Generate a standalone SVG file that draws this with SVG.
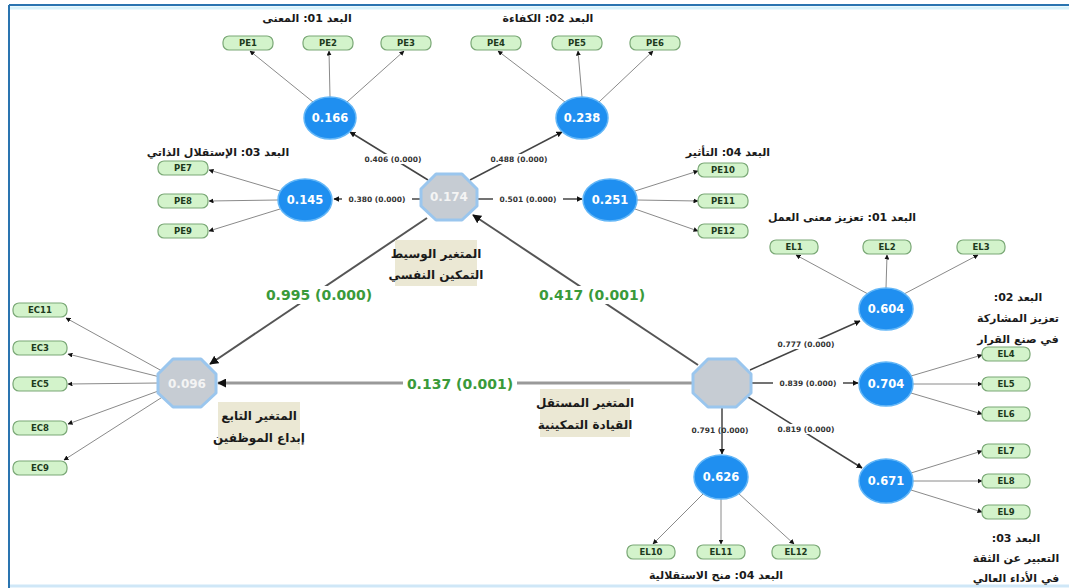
<svg xmlns="http://www.w3.org/2000/svg" width="1069" height="588" viewBox="0 0 1069 588">
<defs>
<marker id="ah" viewBox="0 0 10 10" refX="9" refY="5" markerWidth="6" markerHeight="6" orient="auto" markerUnits="userSpaceOnUse"><path d="M0,0 L10,5 L0,10 z" fill="#111"/></marker>
<marker id="ahs" viewBox="0 0 10 10" refX="9" refY="5" markerWidth="5" markerHeight="5" orient="auto" markerUnits="userSpaceOnUse"><path d="M0,0 L10,5 L0,10 z" fill="#111"/></marker>
<marker id="ahb" viewBox="0 0 10 10" refX="9" refY="5" markerWidth="9" markerHeight="9" orient="auto" markerUnits="userSpaceOnUse"><path d="M0,0 L10,5 L0,10 z" fill="#111"/></marker>
</defs>
<style>
.ind{fill:#d3f3cb;stroke:#7aa876;stroke-width:1.2}
.indt{font-family:"DejaVu Sans",sans-serif;font-weight:bold;font-size:8.5px;fill:#1d3a1d;text-anchor:middle}
.lv{fill:#1f8ff0;stroke:#62b6f7;stroke-width:1.5}
.lvt{font-family:"DejaVu Sans",sans-serif;font-weight:bold;font-size:11.5px;fill:#fff;text-anchor:middle}
.oct{fill:#c6ccd3;stroke:#9ac6ee;stroke-width:3;stroke-linejoin:round}
.octt{font-family:"DejaVu Sans",sans-serif;font-weight:bold;font-size:12px;fill:#f4f4f4;text-anchor:middle}
.ttl{font-family:"DejaVu Sans",sans-serif;font-weight:bold;font-size:11px;fill:#1a1a1a;text-anchor:middle}
.lbl{fill:#ebe8d4}
.lblt{font-family:"DejaVu Sans",sans-serif;font-weight:bold;font-size:12px;fill:#1a1a1a;text-anchor:middle}
.gr{font-family:"DejaVu Sans",sans-serif;font-weight:bold;font-size:14px;fill:#3a9a3a;text-anchor:middle}
.sm{font-family:"DejaVu Sans",sans-serif;font-weight:bold;font-size:7.5px;fill:#333;text-anchor:middle}
.il{stroke:#8a8a8a;stroke-width:1;fill:none;marker-end:url(#ahs)}
.sl{stroke:#444;stroke-width:1.5;fill:none;marker-end:url(#ah)}
.bl{stroke:#555;stroke-width:2;fill:none;marker-end:url(#ahb)}
.wb{fill:#fff}
</style>
<rect x="0" y="0" width="1069" height="588" fill="#fff"/>
<g id="frame">
<line x1="9" y1="5" x2="1069" y2="5" stroke="#2a74b0" stroke-width="2"/>
<line x1="10" y1="8" x2="1069" y2="8" stroke="#d6f2fb" stroke-width="3"/>
<line x1="9" y1="5" x2="9" y2="588" stroke="#2a74b0" stroke-width="2"/>
<line x1="10" y1="586" x2="1069" y2="586" stroke="#cfe7f7" stroke-width="3"/>
</g>

<g id="connectors">
<line class="il" x1="313" y1="102" x2="250" y2="51"/>
<line class="il" x1="330" y1="97" x2="329" y2="51"/>
<line class="il" x1="347" y1="102" x2="404" y2="51"/>
<line class="il" x1="565" y1="102" x2="498" y2="51"/>
<line class="il" x1="582" y1="97" x2="578" y2="51"/>
<line class="il" x1="599" y1="102" x2="653" y2="51"/>
<line class="il" x1="280" y1="191" x2="209" y2="170"/>
<line class="il" x1="278" y1="200" x2="209" y2="201"/>
<line class="il" x1="280" y1="209" x2="209" y2="231"/>
<line class="il" x1="635" y1="191" x2="698" y2="171"/>
<line class="il" x1="637" y1="200" x2="698" y2="201"/>
<line class="il" x1="635" y1="209" x2="698" y2="231"/>
<line class="il" x1="868" y1="294" x2="796" y2="255"/>
<line class="il" x1="886" y1="288" x2="887" y2="255"/>
<line class="il" x1="904" y1="294" x2="978" y2="255"/>
<line class="il" x1="911" y1="376" x2="982" y2="355"/>
<line class="il" x1="913" y1="384" x2="982" y2="384"/>
<line class="il" x1="911" y1="393" x2="982" y2="414"/>
<line class="il" x1="911" y1="473" x2="982" y2="451"/>
<line class="il" x1="913" y1="481" x2="982" y2="481"/>
<line class="il" x1="911" y1="490" x2="982" y2="512"/>
<line class="il" x1="704" y1="493" x2="653" y2="544"/>
<line class="il" x1="721" y1="499" x2="721" y2="544"/>
<line class="il" x1="738" y1="493" x2="794" y2="544"/>
<line class="il" x1="162" y1="371" x2="66" y2="318"/>
<line class="il" x1="160" y1="377" x2="68" y2="354"/>
<line class="il" x1="159" y1="383" x2="68" y2="384"/>
<line class="il" x1="161" y1="390" x2="68" y2="424"/>
<line class="il" x1="164" y1="396" x2="64" y2="460"/>
<line class="sl" x1="428" y1="180" x2="350" y2="132"/>
<line class="sl" x1="470" y1="180" x2="562" y2="132"/>
<line class="sl" x1="421" y1="199" x2="334" y2="199"/>
<line class="sl" x1="477" y1="199" x2="582" y2="199"/>
<line class="bl" x1="427" y1="218" x2="210" y2="364"/>
<line class="bl" x1="698" y1="365" x2="473" y2="215"/>
<line x1="693" y1="383" x2="218" y2="383" stroke="#999" stroke-width="3" marker-end="url(#ahb)"/>
<line class="sl" x1="750" y1="370" x2="860" y2="321"/>
<line class="sl" x1="751" y1="383" x2="858" y2="383"/>
<line class="sl" x1="748" y1="397" x2="862" y2="468"/>
<line class="sl" x1="722" y1="407" x2="722" y2="454"/>
<rect class="wb" x="360" y="154" width="66" height="10"/>
<text class="sm" x="393" y="162">0.406 (0.000)</text>
<rect class="wb" x="486" y="154" width="66" height="10"/>
<text class="sm" x="519" y="162">0.488 (0.000)</text>
<rect class="wb" x="342" y="194" width="70" height="10"/>
<text class="sm" x="377" y="202">0.380 (0.000)</text>
<rect class="wb" x="493" y="194" width="70" height="10"/>
<text class="sm" x="528" y="202">0.501 (0.000)</text>
<rect class="wb" x="771" y="339" width="70" height="10"/>
<text class="sm" x="806" y="347">0.777 (0.000)</text>
<rect class="wb" x="773" y="378" width="70" height="10"/>
<text class="sm" x="808" y="386">0.839 (0.000)</text>
<rect class="wb" x="771" y="424" width="70" height="10"/>
<text class="sm" x="806" y="432">0.819 (0.000)</text>
<text class="sm" x="720" y="433">0.791 (0.000)</text>
<rect class="wb" x="262" y="286" width="114" height="18"/>
<text class="gr" x="319" y="300">0.995 (0.000)</text>
<rect class="wb" x="535" y="286" width="114" height="18"/>
<text class="gr" x="592" y="300">0.417 (0.001)</text>
<rect class="wb" x="403" y="374" width="114" height="18"/>
<text class="gr" x="460" y="389">0.137 (0.001)</text>
</g>

<g id="t-pe-1"><text class="ttl" x="307" y="22" direction="rtl">البعد 01: المعنى</text></g>
<g id="t-pe-2"><text class="ttl" x="548" y="22" direction="rtl">البعد 02: الكفاءة</text></g>
<g id="t-pe-3"><text class="ttl" x="218" y="156" direction="rtl">البعد 03: الإستقلال الذاتي</text></g>
<g id="t-pe-4"><text class="ttl" x="728" y="156" direction="rtl">البعد 04: التأثير</text></g>
<g id="t-el-1"><text class="ttl" x="842" y="221" direction="rtl">البعد 01: تعزيز معنى العمل</text></g>
<g id="t-el-2"><text class="ttl" x="1018" y="301" direction="rtl">البعد 02:</text><text class="ttl" x="1018" y="322" direction="rtl">تعزيز المشاركة</text><text class="ttl" x="1018" y="343" direction="rtl">في صنع القرار</text></g>
<g id="t-el-3"><text class="ttl" x="1016" y="542" direction="rtl">البعد 03:</text><text class="ttl" x="1016" y="562" direction="rtl">التعبير عن الثقة</text><text class="ttl" x="1016" y="582" direction="rtl">في الأداء العالي</text></g>
<g id="t-el-4"><text class="ttl" x="716" y="579" direction="rtl">البعد 04: منح الاستقلالية</text></g>

<g id="PE1"><rect class="ind" x="223" y="36" width="50" height="14" rx="6"/><text class="indt" x="248" y="46">PE1</text></g>
<g id="PE2"><rect class="ind" x="303" y="36" width="50" height="14" rx="6"/><text class="indt" x="328" y="46">PE2</text></g>
<g id="PE3"><rect class="ind" x="381" y="36" width="50" height="14" rx="6"/><text class="indt" x="406" y="46">PE3</text></g>
<g id="PE4"><rect class="ind" x="471" y="36" width="50" height="14" rx="6"/><text class="indt" x="496" y="46">PE4</text></g>
<g id="PE5"><rect class="ind" x="552" y="36" width="50" height="14" rx="6"/><text class="indt" x="577" y="46">PE5</text></g>
<g id="PE6"><rect class="ind" x="630" y="36" width="50" height="14" rx="6"/><text class="indt" x="655" y="46">PE6</text></g>
<g id="PE7"><rect class="ind" x="158" y="161" width="50" height="14" rx="6"/><text class="indt" x="183" y="171">PE7</text></g>
<g id="PE8"><rect class="ind" x="158" y="194" width="50" height="14" rx="6"/><text class="indt" x="183" y="204">PE8</text></g>
<g id="PE9"><rect class="ind" x="158" y="224" width="50" height="14" rx="6"/><text class="indt" x="183" y="234">PE9</text></g>
<g id="PE10"><rect class="ind" x="698" y="163" width="50" height="14" rx="6"/><text class="indt" x="723" y="173">PE10</text></g>
<g id="PE11"><rect class="ind" x="698" y="194" width="50" height="14" rx="6"/><text class="indt" x="723" y="204">PE11</text></g>
<g id="PE12"><rect class="ind" x="698" y="224" width="50" height="14" rx="6"/><text class="indt" x="723" y="234">PE12</text></g>
<g id="EL1"><rect class="ind" x="770" y="240" width="48" height="14" rx="6"/><text class="indt" x="794" y="250">EL1</text></g>
<g id="EL2"><rect class="ind" x="863" y="240" width="48" height="14" rx="6"/><text class="indt" x="887" y="250">EL2</text></g>
<g id="EL3"><rect class="ind" x="957" y="240" width="48" height="14" rx="6"/><text class="indt" x="981" y="250">EL3</text></g>
<g id="EL4"><rect class="ind" x="982" y="347" width="48" height="14" rx="6"/><text class="indt" x="1006" y="357">EL4</text></g>
<g id="EL5"><rect class="ind" x="982" y="377" width="48" height="14" rx="6"/><text class="indt" x="1006" y="387">EL5</text></g>
<g id="EL6"><rect class="ind" x="982" y="407" width="48" height="14" rx="6"/><text class="indt" x="1006" y="417">EL6</text></g>
<g id="EL7"><rect class="ind" x="982" y="444" width="48" height="14" rx="6"/><text class="indt" x="1006" y="454">EL7</text></g>
<g id="EL8"><rect class="ind" x="982" y="474" width="48" height="14" rx="6"/><text class="indt" x="1006" y="484">EL8</text></g>
<g id="EL9"><rect class="ind" x="982" y="505" width="48" height="14" rx="6"/><text class="indt" x="1006" y="515">EL9</text></g>
<g id="EL10"><rect class="ind" x="627" y="545" width="48" height="14" rx="6"/><text class="indt" x="651" y="555">EL10</text></g>
<g id="EL11"><rect class="ind" x="697" y="545" width="48" height="14" rx="6"/><text class="indt" x="721" y="555">EL11</text></g>
<g id="EL12"><rect class="ind" x="772" y="545" width="48" height="14" rx="6"/><text class="indt" x="796" y="555">EL12</text></g>
<g id="EC11"><rect class="ind" x="13" y="303" width="54" height="14" rx="6"/><text class="indt" x="40" y="313">EC11</text></g>
<g id="EC3"><rect class="ind" x="13" y="341" width="54" height="14" rx="6"/><text class="indt" x="40" y="351">EC3</text></g>
<g id="EC5"><rect class="ind" x="13" y="377" width="54" height="14" rx="6"/><text class="indt" x="40" y="387">EC5</text></g>
<g id="EC8"><rect class="ind" x="13" y="421" width="54" height="14" rx="6"/><text class="indt" x="40" y="431">EC8</text></g>
<g id="EC9"><rect class="ind" x="13" y="461" width="54" height="14" rx="6"/><text class="indt" x="40" y="471">EC9</text></g>

<g id="LV-PE1"><ellipse class="lv" cx="330" cy="118" rx="26" ry="21"/><text class="lvt" x="330" y="122">0.166</text></g>
<g id="LV-PE2"><ellipse class="lv" cx="582" cy="118" rx="26" ry="21"/><text class="lvt" x="582" y="122">0.238</text></g>
<g id="LV-PE3"><ellipse class="lv" cx="305" cy="200" rx="27" ry="21"/><text class="lvt" x="305" y="204">0.145</text></g>
<g id="LV-PE4"><ellipse class="lv" cx="610" cy="200" rx="27" ry="21"/><text class="lvt" x="610" y="204">0.251</text></g>
<g id="LV-EL1"><ellipse class="lv" cx="886" cy="309" rx="27" ry="21"/><text class="lvt" x="886" y="313">0.604</text></g>
<g id="LV-EL2"><ellipse class="lv" cx="886" cy="384" rx="27" ry="22"/><text class="lvt" x="886" y="388">0.704</text></g>
<g id="LV-EL3"><ellipse class="lv" cx="886" cy="481" rx="27" ry="22"/><text class="lvt" x="886" y="485">0.671</text></g>
<g id="LV-EL4"><ellipse class="lv" cx="721" cy="477" rx="27" ry="22"/><text class="lvt" x="721" y="481">0.626</text></g>

<g id="mediator"><polygon class="oct" points="436,174 462,174 477,189 477,206 462,220 436,220 421,206 421,189"/><text class="octt" x="449" y="201">0.174</text></g>
<g id="independent"><polygon class="oct" points="708,359 736,359 751,374 751,393 736,407 708,407 693,393 693,374"/></g>
<g id="dependent"><polygon class="oct" points="173,359 201,359 216,374 216,393 201,407 173,407 158,393 158,374"/><text class="octt" x="187" y="388">0.096</text></g>

<g id="label-mediator"><rect class="lbl" x="395" y="240" width="82" height="46"/><text class="lblt" x="436" y="258" direction="rtl">المتغير الوسيط</text><text class="lblt" x="436" y="279" direction="rtl">التمكين النفسي</text></g>
<g id="label-independent"><rect class="lbl" x="540" y="389" width="90" height="48"/><text class="lblt" x="585" y="407" direction="rtl">المتغير المستقل</text><text class="lblt" x="585" y="429" direction="rtl">القيادة التمكينية</text></g>
<g id="label-dependent"><rect class="lbl" x="218" y="402" width="82" height="48"/><text class="lblt" x="259" y="420" direction="rtl">المتغير التابع</text><text class="lblt" x="259" y="442" direction="rtl">إبداع الموظفين</text></g>
</svg>
